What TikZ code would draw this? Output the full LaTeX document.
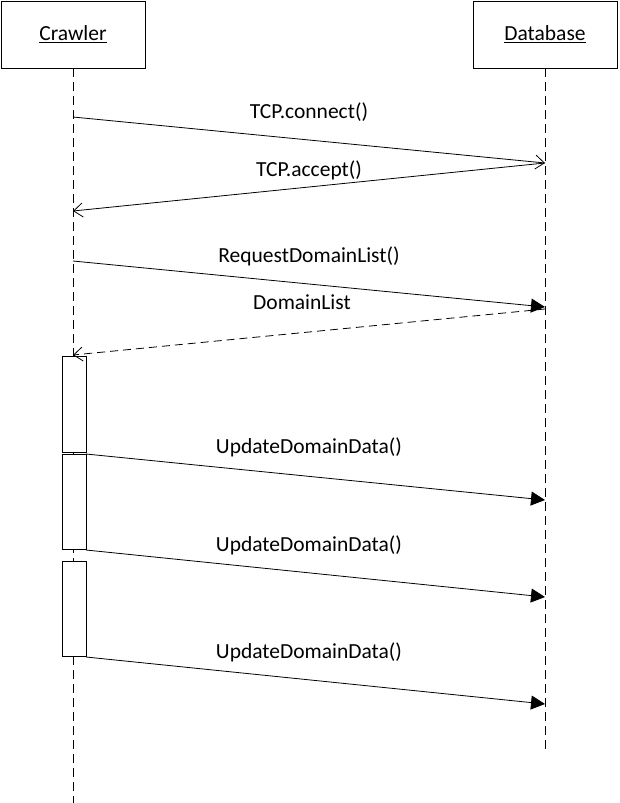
\documentclass[tikz,border=0pt]{standalone}
\usepackage{fontspec}
\setmainfont{Carlito}
\usetikzlibrary{arrows.meta}
\begin{document}
\begin{tikzpicture}[x=1pt,y=-1pt,
  every node/.style={font=\fontsize{21.5}{25}\selectfont},
  actor/.style={draw,line width=0.8pt,minimum width=144pt,minimum height=67pt,inner sep=0pt},
  life/.style={line width=0.8pt,dash pattern=on 9pt off 5pt},
  act/.style={draw,fill=white,line width=0.8pt,minimum width=24pt,inner sep=0pt},
  call/.style={line width=0.8pt,-{Triangle[length=14pt,width=14pt]}},
  sig/.style={line width=0.8pt,-{Straight Barb[length=9pt,width=14pt,line width=0.8pt]}},
  ret/.style={sig,dash pattern=on 8pt off 5pt},
  lbl/.style={inner sep=0pt}]
\useasboundingbox (0,0) rectangle (619,803);
\node[actor] (crawler) at (73,34.5) {\underline{Crawler}};
\node[actor] (db) at (545,34.5) {\underline{Database}};
\coordinate (cend) at (73,803);
\coordinate (dend) at (545,752);
\draw[life] (crawler.south) -- (cend);
\draw[life] (db.south) -- (dend);
% activation boxes
\node[act,minimum height=96pt] (a1) at (74,404) {};
\node[act,minimum height=95pt] (a2) at (74,501.5) {};
\node[act,minimum height=95pt] (a3) at (74,608.5) {};
% message points
\coordinate (m1s) at (73,117); \coordinate (m1e) at (545,163);
\coordinate (m2s) at (545,163); \coordinate (m2e) at (73,211);
\coordinate (m3s) at (73,261); \coordinate (m3e) at (545,307);
\coordinate (m4s) at (545,309); \coordinate (m4e) at (73,355);
\coordinate (m5s) at (86,454); \coordinate (m5e) at (545,500);
\coordinate (m6s) at (86,550); \coordinate (m6e) at (545,597);
\coordinate (m7s) at (86,657); \coordinate (m7e) at (545,704);
\draw[sig] (m1s) -- (m1e);
\draw[sig] (m2s) -- (m2e);
\draw[call] (m3s) -- (m3e);
\draw[ret] (m4s) -- (m4e);
\draw[call] (m5s) -- (m5e);
\draw[call] (m6s) -- (m6e);
\draw[call] (m7s) -- (m7e);
\node[lbl] (l1) at (309,112) {TCP.connect()};
\node[lbl] (l2) at (309,170) {TCP.accept()};
\node[lbl] (l3) at (309,256) {RequestDomainList()};
\node[lbl] (l4) at (302,302) {DomainList};
\node[lbl] (l5) at (309,447) {UpdateDomainData()};
\node[lbl] (l6) at (309,545) {UpdateDomainData()};
\node[lbl] (l7) at (309,652) {UpdateDomainData()};
\end{tikzpicture}
\end{document}
